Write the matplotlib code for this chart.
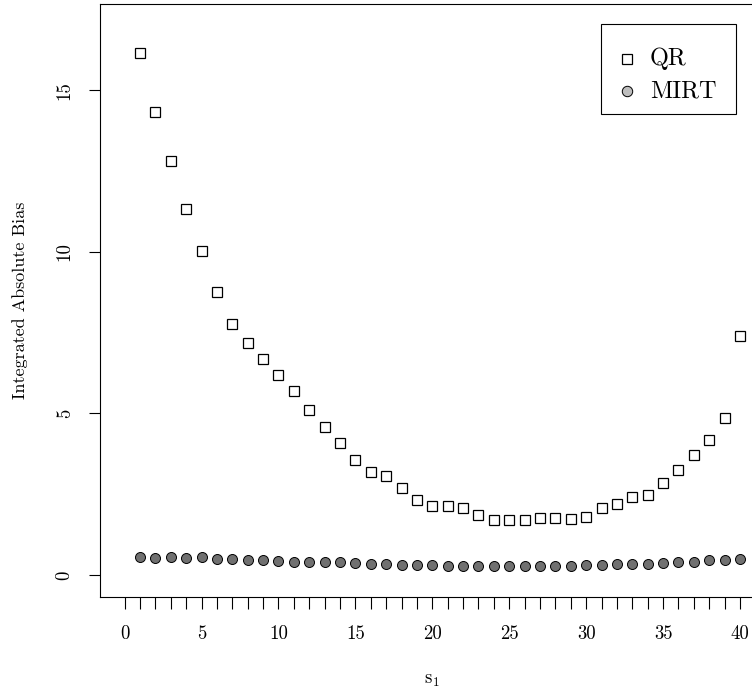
import matplotlib
matplotlib.use("Agg")
import matplotlib.pyplot as plt
from matplotlib.lines import Line2D
from matplotlib.patches import Rectangle
import numpy as np

plt.rcParams['font.family'] = 'serif'
plt.rcParams['font.serif'] = ['cmr10']
plt.rcParams['mathtext.fontset'] = 'cm'
plt.rcParams['axes.formatter.use_mathtext'] = True

s1 = np.arange(1, 41)
qr = [16.14, 14.32, 12.81, 11.33, 10.01, 8.75, 7.76, 7.17, 6.68, 6.18,
      5.69, 5.12, 4.59, 4.07, 3.57, 3.19, 3.05, 2.70, 2.32, 2.13,
      2.15, 2.06, 1.86, 1.70, 1.71, 1.71, 1.75, 1.77, 1.74, 1.81,
      2.06, 2.21, 2.41, 2.49, 2.86, 3.24, 3.71, 4.19, 4.86, 7.41]
mirt = [0.57, 0.54, 0.57, 0.53, 0.56, 0.50, 0.50, 0.46, 0.45, 0.44,
        0.41, 0.40, 0.39, 0.39, 0.36, 0.34, 0.33, 0.32, 0.32, 0.31,
        0.28, 0.28, 0.28, 0.27, 0.27, 0.27, 0.28, 0.28, 0.28, 0.31,
        0.31, 0.33, 0.33, 0.35, 0.37, 0.40, 0.41, 0.45, 0.46, 0.48]
labels = ['QR', 'MIRT']
xticks_minor = np.arange(0, 41)
yticks = [0, 5, 10, 15]

fig = plt.figure(figsize=(7.52, 6.9), dpi=100)
ax = fig.add_axes([0.133, 0.1348, 0.8838, 0.860])

ax.plot(s1, qr, 's', ms=6.5, mfc='white', mec='black', mew=0.9)
ax.plot(s1, mirt, 'o', ms=7.2, mfc='#707070', mec='black', mew=0.7)

ax.set_xlim(-1.6, 41.6)
ax.set_ylim(-0.68, 17.68)

ax.set_xticks(xticks_minor)
ax.set_xticklabels([str(v) if v % 5 == 0 else '' for v in xticks_minor])
ax.set_yticks(yticks)
ax.set_yticklabels([str(v) for v in yticks], rotation=90, va='center')
ax.tick_params(axis='x', direction='out', length=8.5, width=0.8, pad=12, labelsize=13.5)
ax.tick_params(axis='y', direction='out', length=8, width=0.8, pad=11, labelsize=13.5)
for sp in ax.spines.values():
    sp.set_linewidth(0.8)

ax.set_xlabel(r'$\mathrm{s}_1$', fontsize=13.5, labelpad=20)
ax.set_ylabel('Integrated Absolute Bias', fontsize=13, labelpad=20)

# legend box drawn by hand (R-style spacing)
ax.add_patch(Rectangle((0.7539, 0.8138), 0.2031, 0.1517, transform=ax.transAxes,
                       fill=False, ec='black', lw=0.8, zorder=5))
ax.add_line(Line2D([0.793], [0.9065], transform=ax.transAxes, ls='none', marker='s',
                   ms=7, mfc='white', mec='black', mew=0.9, zorder=6))
ax.add_line(Line2D([0.793], [0.8526], transform=ax.transAxes, ls='none', marker='o',
                   ms=7.5, mfc='#bebebe', mec='black', mew=0.7, zorder=6))
ax.text(0.8276, 0.9065, labels[0], transform=ax.transAxes, fontsize=17.5, va='center', ha='left')
ax.text(0.8276, 0.8526, labels[1], transform=ax.transAxes, fontsize=17.5, va='center', ha='left')

fig.savefig('out.png', dpi=100)
